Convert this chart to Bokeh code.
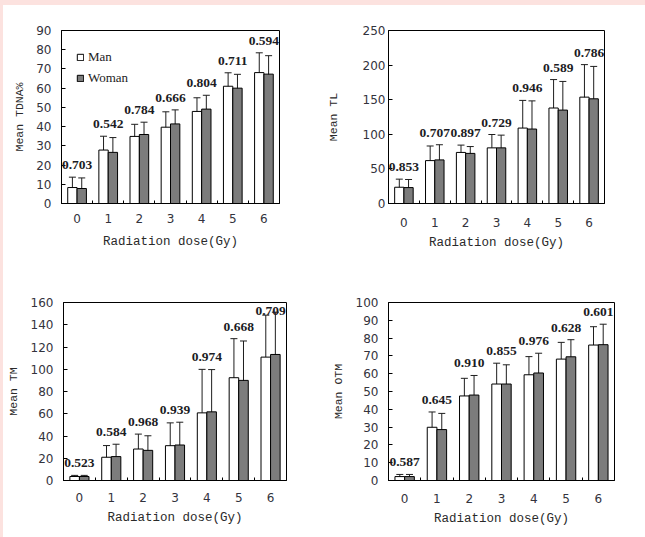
from bokeh.plotting import figure
from bokeh.models import (ColumnDataSource, Whisker, TeeHead, FixedTicker, Range1d,
                          LabelSet, Spacer)
from bokeh.layouts import row, column
from bokeh.embed import file_html
from bokeh.resources import INLINE

# ---------------- data ----------------
doses = [0, 1, 2, 3, 4, 5, 6]
dose_labels = ["0", "1", "2", "3", "4", "5", "6"]

# Mean TDNA%
tdna_man = [8.3, 27.8, 34.9, 39.7, 47.9, 61.0, 68.1]
tdna_man_sd = [5.4, 7.2, 6.3, 8.0, 7.1, 7.0, 10.3]
tdna_woman = [7.8, 26.6, 35.9, 41.4, 49.1, 60.0, 67.3]
tdna_woman_sd = [5.5, 7.7, 6.4, 7.3, 7.2, 7.2, 9.6]
tdna_p = ["0.703", "0.542", "0.784", "0.666", "0.804", "0.711", "0.594"]

# Mean TL
tl_man = [23.5, 62.0, 73.8, 80.4, 109.0, 138.0, 153.7]
tl_man_sd = [11.7, 21.1, 10.6, 19.3, 40.0, 41.1, 47.0]
tl_woman = [23.0, 63.0, 72.4, 80.4, 107.6, 135.0, 151.3]
tl_woman_sd = [11.7, 21.9, 9.9, 18.4, 40.7, 41.4, 46.8]
tl_p = ["0.853", "0.707", "0.897", "0.729", "0.946", "0.589", "0.786"]

# Mean TM
tm_man = [3.6, 20.9, 28.3, 31.3, 60.8, 92.4, 110.9]
tm_man_sd = [1.0, 10.5, 13.4, 20.5, 39.1, 35.1, 37.7]
tm_woman = [3.6, 21.5, 27.1, 31.9, 61.7, 90.0, 113.3]
tm_woman_sd = [1.0, 11.1, 13.1, 20.5, 38.0, 35.4, 38.0]
tm_p = ["0.523", "0.584", "0.968", "0.939", "0.974", "0.668", "0.709"]

# Mean OTM
otm_man = [2.2, 29.9, 47.5, 54.2, 59.4, 68.2, 76.1]
otm_man_sd = [1.2, 8.6, 9.9, 11.7, 10.2, 9.4, 10.3]
otm_woman = [2.2, 28.6, 48.0, 54.2, 60.4, 69.5, 76.3]
otm_woman_sd = [1.2, 9.1, 11.0, 10.8, 11.1, 9.6, 11.5]
otm_p = ["0.587", "0.645", "0.910", "0.855", "0.976", "0.628", "0.601"]

TICK_COLOR = "#33333d"
GRAY = "#7c7c7c"
LABEL_GAP_PX = 8


def panel(title, man, man_sd, woman, woman_sd, pvals, ymax, ystep,
          width, height, borders, ylab_standoff, ytitle_standoff,
          xlab_standoff, xtitle_standoff, legend=False):
    left, right, top, bottom = borders
    frame_h = height - top - bottom
    px_per_unit = frame_h / ymax
    p = figure(width=width, height=height, output_backend="svg",
               toolbar_location=None, x_range=Range1d(-0.5, 6.5),
               y_range=Range1d(0, ymax), min_border_left=left,
               min_border_right=right, min_border_top=top,
               min_border_bottom=bottom)
    p.background_fill_color = "white"
    p.border_fill_color = "white"
    p.outline_line_color = "black"
    p.outline_line_width = 1
    p.xgrid.visible = False
    p.ygrid.visible = False

    bw = 0.3
    xm = [d - bw / 2 for d in doses]
    xw = [d + bw / 2 for d in doses]
    src = ColumnDataSource(dict(
        xm=xm, xw=xw, man=man, woman=woman,
        um=[m + s for m, s in zip(man, man_sd)],
        lm=[m - s for m, s in zip(man, man_sd)],
        uw=[m + s for m, s in zip(woman, woman_sd)],
        lw=[m - s for m, s in zip(woman, woman_sd)],
    ))
    kw_m = dict(legend_label="Man") if legend else {}
    kw_w = dict(legend_label="Woman") if legend else {}
    p.vbar(x="xm", top="man", bottom=0, width=bw, source=src,
           fill_color="white", line_color="black", line_width=1, **kw_m)
    p.vbar(x="xw", top="woman", bottom=0, width=bw, source=src,
           fill_color=GRAY, line_color="black", line_width=1, **kw_w)

    for base, up, lo in (("xm", "um", "lm"), ("xw", "uw", "lw")):
        w = Whisker(base=base, upper=up, lower=lo, source=src,
                    line_color="#1e1e1e", line_width=1,
                    upper_head=TeeHead(size=7, line_color="#1e1e1e", line_width=1),
                    lower_head=TeeHead(size=7, line_color="#1e1e1e", line_width=1))
        p.add_layout(w)

    # label baseline just above the higher error bar, kept inside the frame
    cap = ymax - (12.5 + LABEL_GAP_PX) / px_per_unit
    lab_y = [min(max(a + b, c + d), cap)
             for a, b, c, d in zip(man, man_sd, woman, woman_sd)]
    lab_src = ColumnDataSource(dict(x=doses, y=lab_y, t=pvals))
    labels = LabelSet(x="x", y="y", text="t", source=lab_src,
                      text_align="center", text_baseline="alphabetic",
                      y_offset=LABEL_GAP_PX, text_font="Liberation Serif",
                      text_font_style="bold", text_font_size="13.5px",
                      text_color="#1c1c24")
    p.add_layout(labels)

    # x axis
    xa = p.xaxis[0]
    xa.ticker = FixedTicker(ticks=doses, minor_ticks=[d - 0.5 for d in doses] + [6.5])
    xa.major_label_overrides = {d: l for d, l in zip(doses, dose_labels)}
    xa.major_tick_in = 0
    xa.major_tick_out = 0
    xa.minor_tick_in = 3
    xa.minor_tick_out = 0
    xa.minor_tick_line_color = "black"
    xa.axis_line_color = "black"
    xa.major_label_text_font = "DejaVu Sans"
    xa.major_label_text_font_size = "12px"
    xa.major_label_text_color = TICK_COLOR
    xa.major_label_standoff = xlab_standoff
    xa.axis_label = "Radiation dose(Gy)"
    xa.axis_label_text_font = "Liberation Mono"
    xa.axis_label_text_font_size = "12.5px"
    xa.axis_label_text_font_style = "normal"
    xa.axis_label_text_color = "#2a2a2a"
    xa.axis_label_standoff = xtitle_standoff

    ya = p.yaxis[0]
    ya.ticker = FixedTicker(ticks=list(range(0, ymax + 1, ystep)))
    ya.major_tick_in = 4
    ya.major_tick_out = 0
    ya.minor_tick_in = 0
    ya.minor_tick_out = 0
    ya.major_tick_line_color = "black"
    ya.axis_line_color = "black"
    ya.major_label_text_font = "DejaVu Sans"
    ya.major_label_text_font_size = "12px"
    ya.major_label_text_color = TICK_COLOR
    ya.major_label_standoff = ylab_standoff
    ya.axis_label = title
    ya.axis_label_text_font = "Liberation Mono"
    ya.axis_label_text_font_size = "11.5px"
    ya.axis_label_text_font_style = "normal"
    ya.axis_label_text_color = "#2a2a2a"
    ya.axis_label_standoff = ytitle_standoff

    if legend:
        lg = p.legend[0]
        lg.location = (5, 105)
        lg.margin = 0
        lg.padding = 10
        lg.spacing = 1
        lg.glyph_width = 8
        lg.glyph_height = 8
        lg.label_height = 20
        lg.label_standoff = 4
        lg.border_line_alpha = 0
        lg.background_fill_alpha = 0
        lg.label_text_font = "Liberation Serif"
        lg.label_text_font_size = "13px"
        lg.label_text_color = "#222222"
    return p


p1 = panel("Mean TDNA%", tdna_man, tdna_man_sd, tdna_woman, tdna_woman_sd, tdna_p,
           90, 10, 320, 265, (58, 44, 22, 67), 10, 7, 10, 9, legend=True)
p2 = panel("Mean TL", tl_man, tl_man_sd, tl_woman, tl_woman_sd, tl_p,
           250, 50, 322, 265, (63, 41, 25, 63), 3, 20, 14, 6)
p3 = panel("Mean TM", tm_man, tm_man_sd, tm_woman, tm_woman_sd, tm_p,
           160, 20, 320, 267, (59, 37, 32, 56), 10, 8, 12, 6)
p4 = panel("Mean OTM", otm_man, otm_man_sd, otm_woman, otm_woman_sd, otm_p,
           100, 10, 322, 267, (65, 31, 32, 57), 10, 8, 13, 6)

pink = {"background-color": "#fce2df"}
layout = row(
    Spacer(width=3, height=537, styles=pink),
    column(Spacer(width=642, height=5, styles=pink),
           row(p1, p2), row(p3, p4)),
)

open("out.html", "w").write(file_html(layout, INLINE))
